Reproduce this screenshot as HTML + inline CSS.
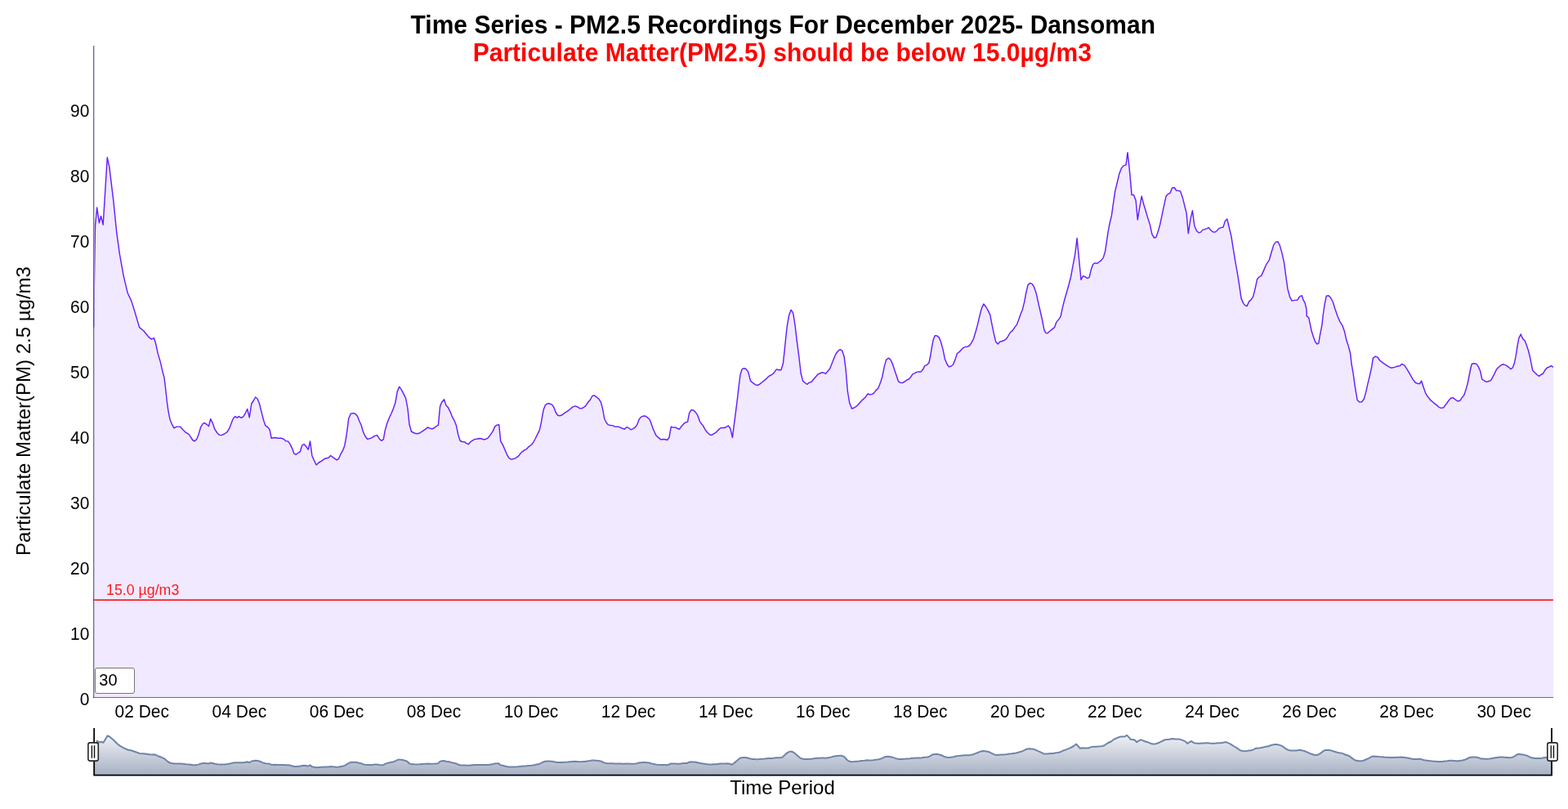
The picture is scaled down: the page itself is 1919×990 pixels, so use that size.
<!DOCTYPE html>
<html lang="en">
<head>
<meta charset="utf-8">
<title>Time Series - PM2.5 Recordings For December 2025- Dansoman</title>
<style>
html,body{margin:0;padding:0;background:#fff;overflow:hidden;}
body{width:1919px;height:990px;position:relative;font-family:"Liberation Sans",Arial,sans-serif;color:#000;}
#chart{position:absolute;left:0;top:0;width:1919px;height:990px;}
.title{position:absolute;left:0;top:14px;width:1916px;text-align:center;font-weight:bold;font-size:30px;line-height:34px;white-space:nowrap;}
.title span{display:inline-block;transform:scaleY(1.04);transform-origin:50% 79%;}
.title .t1{position:relative;left:0.3px;}
.title .sub{color:#f00;letter-spacing:0.03px;position:relative;left:-0.7px;}
.ylabel{position:absolute;left:28.9px;top:503px;width:0;height:0;}
.ylabel span{position:absolute;white-space:nowrap;font-size:24px;line-height:26px;transform:translate(-50%,-50%) rotate(-90deg);}
.xlabel{position:absolute;left:0;top:950px;width:1915px;text-align:center;font-size:24px;line-height:28px;}
.yt{transform:scaleY(1.05);transform-origin:50% 50%;position:absolute;left:0;width:109.4px;text-align:right;font-size:21px;line-height:22px;height:22px;}
.xt{transform:scaleY(1.05);transform-origin:50% 50%;position:absolute;top:860.1px;width:120px;margin-left:-60px;text-align:center;font-size:21px;line-height:22px;white-space:nowrap;}
.ann{position:absolute;left:130px;top:713px;font-size:17.8px;line-height:18px;color:#ff1a1a;white-space:nowrap;}
.roll span{display:inline-block;transform:scaleY(1.05);transform-origin:50% 75%;}
.roll{position:absolute;left:116px;top:817px;width:42.7px;height:30px;border:1px solid #767676;border-radius:3px;background:#fff;font-size:20px;line-height:28px;padding-left:4.3px;box-sizing:content-box;}
svg{position:absolute;left:0;top:0;}
</style>
</head>
<body>
<div id="chart">
<svg width="1919" height="990" viewBox="0 0 1919 990">
<defs>
<linearGradient id="rs" gradientUnits="userSpaceOnUse" x1="0" y1="889" x2="0" y2="948">
<stop offset="0" stop-color="#ffffff"/>
<stop offset="1" stop-color="#a7b1c4"/>
</linearGradient>
<clipPath id="pc"><rect x="114.5" y="55" width="1786.6" height="799"/></clipPath>
</defs>
<g id="plot" clip-path="url(#pc)">
<path id="fill" d="M115,853.5 L115,400.6 L115.3,349.7 L116.5,277 L118.7,253.9 L121.4,272.8 L123.6,264.4 L126.2,275 L131.3,192.6 L133.8,204.2 L139.1,247.9 L142.7,284.2 L146.4,310.9 L151.2,337.6 L156.1,358.2 L160.9,368.6 L164.5,380 L170.6,400.6 L175.9,405 L182.7,413.2 L185.6,415.2 L188.3,413.5 L190.5,420 L193.2,432.4 L196.3,442.9 L198.7,453.6 L200.9,461.7 L202.3,472.8 L204.3,491 L206,503.1 L208,513.2 L210,518.3 L213,523.9 L216.1,522.1 L220.5,522.1 L223.5,525.4 L227.6,529.4 L231,531.4 L233.6,535.1 L235.7,538.5 L238.1,539.9 L240.7,537.5 L243.1,531.4 L245.8,522.3 L248.2,518.7 L250.4,517.5 L252.8,519.3 L255.5,521.5 L257.7,512.6 L260.1,517.3 L262.9,525.4 L266,530 L268.6,532.4 L271,532.6 L274.6,531 L278.1,528.6 L281.1,523.3 L285.2,512.6 L287.6,509.6 L290.2,511.2 L292.4,509.6 L295.3,511.4 L297.7,509.8 L300.3,505.8 L302.7,500.5 L305.2,510.8 L307.8,494 L310.4,490 L312.6,486 L315.1,488 L317.5,494 L320.5,506.2 L322.9,515.3 L324.9,520.9 L327.6,522.7 L330,525.4 L332.2,536.3 L335.7,535.5 L340.7,536.3 L344.7,536.3 L347.4,537.5 L349.8,539.7 L352.4,539.9 L354.8,543.1 L357.5,548.6 L359.9,555.1 L362.3,556.3 L364.9,554.2 L367.2,553 L369.6,545.2 L372,543.5 L374.4,546 L377.3,550.2 L379.5,539.9 L381.9,557.7 L384.5,563.7 L387.2,569 L390.2,566 L393.2,564.3 L397.3,561.3 L400,560.7 L402,560.3 L404.6,557.5 L407.1,559.3 L409.7,561.1 L412.1,562.9 L414.5,561.3 L417.2,555.3 L419.6,551.2 L421.8,545.2 L423.6,535.5 L425.3,523.3 L426.7,512.2 L429.3,506.2 L432.3,505.6 L434.7,506.2 L437.4,509.2 L439.8,515.3 L442.2,520.5 L444.4,528.4 L446.9,533.8 L449.5,537.3 L452.1,536.7 L454.9,535.9 L458.6,533.4 L461.6,532.6 L464.2,536.9 L466.7,539.3 L469.3,537.7 L471.3,526.4 L473.7,518.3 L476.4,511.2 L478.8,506.2 L481.4,500.1 L483.8,493 L486.3,478.9 L488.7,473.2 L491.3,476.9 L493.9,481.9 L496.6,487.4 L499,500.1 L501,519.3 L503.4,528 L507.1,530 L510.7,530.8 L513.5,530 L517.2,527.6 L521.2,524.9 L523.6,522.9 L526.3,524.3 L528.9,524.9 L531.7,523.5 L534.1,521.5 L536.4,520.1 L538.6,497.1 L540.8,492 L543.6,488.8 L545.9,496.1 L548.7,499.1 L551.1,504.1 L553.5,510.2 L556,514.6 L558.6,521.3 L560.8,532.4 L563.2,539.5 L565.7,540.5 L568.3,540.7 L570.7,542.3 L573.3,543.7 L575.8,540.7 L578.4,539.1 L580.8,537.5 L583.4,537.3 L586.3,536.5 L588.9,536.7 L591.5,537.7 L593.9,537.7 L597,536.1 L599,533.8 L601,530.8 L603.4,527.4 L605.7,521.9 L608.1,520.1 L610.7,519.7 L612.7,539.9 L615.6,544.9 L618.2,551 L620.6,556.7 L623,560.7 L625.7,562.1 L628.3,561.5 L630,561.1 L634,558.7 L638.1,553.6 L642.1,550.6 L644.5,549.6 L647.2,546.6 L650.2,544.5 L652.6,541.5 L655.3,536.5 L658.3,530.4 L660.3,526.4 L662.3,517.3 L663.9,508.2 L665.4,500.7 L667.4,495.7 L669.8,494 L672.4,493.8 L675.5,495.1 L677.9,498.5 L680.1,504.5 L682.5,508.2 L684.9,508.8 L687.6,508 L690.6,505.6 L694.6,503.1 L697.7,500.7 L700.7,498.1 L703.7,496.9 L706.4,497.7 L709.8,499.9 L712.8,499.5 L716.3,497.1 L719.9,492 L722.5,489 L724.9,484.5 L727.4,483.9 L730,485.8 L733,488.4 L735.5,492.4 L737.7,501.1 L739.7,512.2 L742.1,517.3 L744.5,519.9 L747.2,520.5 L750.2,520.9 L752.6,522.1 L757.3,522.3 L760.3,523.7 L764.3,525.2 L767,522.7 L769.4,523.7 L772,525.8 L774.8,524.7 L777.5,522.9 L779.9,519.3 L782.1,513.2 L784.5,510.4 L787.2,509.2 L789.6,509 L792,510.6 L795.1,513.2 L797.3,519.3 L799.7,525.8 L802.7,532.4 L805.2,535.1 L808.8,537.9 L811.8,537.5 L814.2,537.7 L816.5,538.5 L818.9,535.5 L821.3,522.3 L823.9,523.1 L826.4,522.9 L829,524.3 L831.6,525.2 L834,521.7 L836.7,518.7 L839.1,516.9 L841.5,516.3 L843.7,505.2 L846.2,501.5 L848.8,502.1 L851.2,504.3 L853.8,508.2 L856.3,515.3 L858.9,519.3 L860,520.2 L863,525.7 L866.1,529.7 L869.1,532.3 L871.1,532.3 L873.7,530.7 L876.2,529.3 L879.2,526.1 L881.8,523.8 L884.2,523.4 L887.3,523.4 L889.3,522.2 L891.3,521 L893.7,524 L896.4,535.4 L898.4,519.6 L900.4,504.4 L902.4,488.3 L904.4,471.1 L906.1,458 L908.1,451.9 L910.5,450.7 L912.9,451.5 L915.6,454.9 L917.2,461 L918.6,466.1 L921.6,468.7 L924.6,470.9 L927.1,471.5 L929.7,470.1 L932.7,467.7 L936.8,464.4 L940.8,460.4 L943.8,459 L946.9,456.6 L950.3,451.9 L952.9,452.7 L956,452.7 L958.4,444.8 L960.4,426.7 L962,410.5 L963.4,398.4 L965.5,386.3 L968.1,379.2 L970.7,383.2 L973.1,398.4 L975.2,416.6 L977.6,434.7 L980.2,457 L982.6,466.1 L985.3,468.5 L987.9,470.3 L990.3,468.1 L992.9,467.5 L995.8,464 L998.4,461 L1000.8,458.2 L1003.4,457 L1005.9,455.8 L1008.1,456.2 L1010.5,457.4 L1012.9,454.5 L1015.6,451.3 L1018.2,444.8 L1020.6,438.4 L1023.2,432.7 L1025.7,429.5 L1028.1,427.7 L1030.7,429.1 L1033.1,436.4 L1035.2,452.9 L1037.4,479.2 L1039.8,493.3 L1042.4,500 L1045.5,499 L1048.9,496.6 L1051.9,493.3 L1054.9,489.9 L1059,486.3 L1062,482 L1064.4,482.8 L1067.1,482.6 L1069.5,481.2 L1072.1,477.6 L1074.7,475.2 L1077.2,469.1 L1079.8,461 L1082.2,448.9 L1084.6,440.4 L1087.3,438.2 L1089.7,439.8 L1090,440.2 L1092.4,445.6 L1095.1,453.7 L1097.5,460.8 L1099.5,466.8 L1102.1,468.4 L1104.1,468.6 L1107.2,467 L1109.6,465.2 L1112.2,464 L1114.6,461.4 L1116.9,457.9 L1119.7,456.7 L1122.3,455.1 L1124.7,454.9 L1127.2,454.9 L1129.4,452.3 L1131.8,447.6 L1134.4,446.6 L1136.9,444 L1138.9,434.5 L1140.5,424.4 L1142.1,416.3 L1144.1,410.7 L1146.6,410.9 L1149.2,412.9 L1151.6,418.7 L1154.2,428.4 L1156.3,438.9 L1158.7,445 L1161.3,448.8 L1163.9,448.2 L1166.4,446.2 L1168.8,440.6 L1171.4,432.5 L1173.8,430.9 L1176.5,428 L1178.9,425.6 L1181.5,424.4 L1183.9,424.2 L1186.4,423 L1189,419.3 L1191.6,414.3 L1194,406.2 L1196.5,397.1 L1199.1,386 L1201.5,376.9 L1203.9,371.9 L1206.6,375.5 L1209.2,379.9 L1211.8,385.4 L1213.6,395.1 L1216.3,408.2 L1218.7,418.3 L1221.3,421 L1223.7,418.3 L1226.4,417.5 L1229,416.5 L1231.4,414.9 L1233.8,411.3 L1236.3,407 L1239.1,404.6 L1241.5,401.2 L1244.5,397.1 L1247.2,390.1 L1249.2,384 L1251.2,379.5 L1253.6,369.8 L1255.7,358.7 L1258.1,348.6 L1260.7,346.4 L1263.3,347.6 L1265.8,351.7 L1268.4,359.7 L1270.8,370.9 L1273.4,382 L1275.9,393.1 L1277.9,403.8 L1279.9,407.4 L1281.9,407.8 L1284.9,405.2 L1288,402.6 L1290.6,400.6 L1293,394.1 L1295.7,390.9 L1298.1,387.4 L1300.5,375.9 L1303.1,365.8 L1305.6,357.3 L1308.2,348 L1310.6,338.5 L1313.2,324.4 L1315.7,311.3 L1318.1,291.5 L1323,342.3 L1325.5,337.8 L1328.1,338.6 L1330.5,340.5 L1333.1,339.6 L1335.2,330.6 L1337.6,323.5 L1339.8,321.9 L1342.6,322.3 L1345.3,320.5 L1347.9,318.4 L1350.3,315.4 L1352.7,307.3 L1354.3,296.2 L1356.4,282.1 L1358.4,272 L1360.4,263.9 L1362.4,249.7 L1364.8,233.6 L1367.5,222.5 L1369.9,212.4 L1372.5,205.7 L1374.9,202.9 L1378,201.9 L1380,186.7 L1381.6,200.3 L1383.2,217.4 L1385.1,238.6 L1387.5,238.4 L1390.1,245.3 L1392.3,268.9 L1394.7,253.8 L1397.2,240.1 L1399.8,250.2 L1402.4,258.8 L1404.8,266.9 L1407.5,275.4 L1409.9,286.7 L1412.5,291 L1414.9,290.2 L1417.4,283.1 L1419.6,275 L1422,263.9 L1424.4,252.4 L1427.1,240.1 L1429.5,237.6 L1432.1,236.2 L1434.5,229.9 L1437.2,229.5 L1439.6,233 L1442.2,233.4 L1444.6,234 L1447.3,241.7 L1449.7,251.4 L1452.1,260.9 L1454.3,285.7 L1457,267.9 L1459.4,257.8 L1461.8,276 L1464.4,282.5 L1467.1,284.7 L1469.5,284.1 L1472.1,281.1 L1474.5,280.7 L1477.2,279.6 L1479.2,278.4 L1481.6,281.5 L1484.2,283.7 L1486.7,284.1 L1489.3,282.5 L1491.7,279.6 L1494.3,278.6 L1497,278 L1499.4,270.4 L1501.8,267.9 L1504.2,278 L1506.9,289.1 L1509.3,304.3 L1511.9,320.5 L1514.3,333.6 L1517,350.8 L1519,364.9 L1521.4,370.6 L1523.6,373.6 L1526.1,374.6 L1528.7,368.9 L1531.1,366.9 L1533.7,362.9 L1536.2,352.8 L1538.6,341.7 L1541.2,338.6 L1543.6,337.6 L1546.3,331.6 L1548.9,325.5 L1550,323.2 L1553.3,318.3 L1556.2,308.3 L1558.9,299.4 L1561.6,296.1 L1564,295.7 L1566.2,300.1 L1568.9,309.4 L1571.6,321.7 L1573.8,338.3 L1576,353.9 L1578.4,362.8 L1581.1,368.1 L1584.4,367.4 L1587.8,367.2 L1590.4,363.2 L1593.3,361.7 L1595.1,367.2 L1597.1,370.6 L1598.9,378.3 L1599.3,387.2 L1601.6,388.3 L1603.3,396.1 L1605.1,405 L1607.3,411.7 L1609.6,418.3 L1611.8,421 L1613.8,420.1 L1615.6,409.4 L1617.8,398.3 L1619.3,385 L1621.1,372.8 L1623.3,362.1 L1626,361.7 L1628.2,363.9 L1631.1,369 L1634,378.3 L1637.1,387.2 L1640,393.9 L1642.9,398.3 L1645.6,406.1 L1647.8,416.1 L1650.4,423.9 L1652.7,432.8 L1654,445 L1656,456.1 L1657.8,469.4 L1659.6,480.6 L1661.1,489.4 L1663.8,492.1 L1666.7,491.7 L1669.3,488.3 L1671.8,479.4 L1674,469.4 L1676.2,460.6 L1678.4,450.6 L1680.4,438.3 L1683.3,436.1 L1686,437.2 L1688.9,441.2 L1692.2,443.9 L1695.6,446.1 L1698.9,448.3 L1702.9,450.3 L1706.7,449.4 L1710,448.3 L1713.3,447.7 L1715.6,445.4 L1718.9,447.2 L1722.2,452.1 L1725.6,457.9 L1728.9,463.9 L1732.2,468.3 L1735.1,469.4 L1737.8,469.4 L1739.6,466.1 L1742.2,473.9 L1744.9,481.7 L1747.8,486.1 L1751.1,489.9 L1754.4,492.8 L1757.8,495.4 L1761.1,498.3 L1763.8,499.4 L1766.7,498.8 L1769.3,495 L1770,494.5 L1772.8,490.3 L1775.7,487.2 L1778.5,486.8 L1781.3,489.2 L1784.1,491 L1786.7,490.3 L1789.1,486.8 L1791.6,483.9 L1794,476.9 L1796.2,469.1 L1798.3,458.5 L1800,450 L1801.4,445.3 L1803.9,444.8 L1806.8,445.1 L1809.3,448.6 L1811.7,454.2 L1813.8,464.1 L1816.7,466 L1819.5,467.4 L1822,466.5 L1824.4,465.6 L1826.6,462 L1829.1,457.1 L1831.5,452.1 L1834.3,449.3 L1837.2,446.7 L1840,445.8 L1842.8,446.9 L1846.4,449.3 L1848.9,451.7 L1851.3,450 L1853.4,444.3 L1855.3,435.2 L1857,423.8 L1858.8,413.9 L1861.2,409 L1862.6,412.5 L1864.5,415.6 L1866.2,416.8 L1868.3,422.4 L1870.4,428.8 L1872.1,435.2 L1873.9,444.3 L1875.8,453.5 L1878.2,455.7 L1881,458.5 L1883.6,460.3 L1886,458.5 L1888.5,457.1 L1890.9,452.8 L1893.7,449.7 L1895.9,449.2 L1898.4,447.6 L1901,449.3 L1901,853.5 Z" fill="#f0e9ff"/>
<path id="line" d="M115,400.6 L115.3,349.7 L116.5,277 L118.7,253.9 L121.4,272.8 L123.6,264.4 L126.2,275 L131.3,192.6 L133.8,204.2 L139.1,247.9 L142.7,284.2 L146.4,310.9 L151.2,337.6 L156.1,358.2 L160.9,368.6 L164.5,380 L170.6,400.6 L175.9,405 L182.7,413.2 L185.6,415.2 L188.3,413.5 L190.5,420 L193.2,432.4 L196.3,442.9 L198.7,453.6 L200.9,461.7 L202.3,472.8 L204.3,491 L206,503.1 L208,513.2 L210,518.3 L213,523.9 L216.1,522.1 L220.5,522.1 L223.5,525.4 L227.6,529.4 L231,531.4 L233.6,535.1 L235.7,538.5 L238.1,539.9 L240.7,537.5 L243.1,531.4 L245.8,522.3 L248.2,518.7 L250.4,517.5 L252.8,519.3 L255.5,521.5 L257.7,512.6 L260.1,517.3 L262.9,525.4 L266,530 L268.6,532.4 L271,532.6 L274.6,531 L278.1,528.6 L281.1,523.3 L285.2,512.6 L287.6,509.6 L290.2,511.2 L292.4,509.6 L295.3,511.4 L297.7,509.8 L300.3,505.8 L302.7,500.5 L305.2,510.8 L307.8,494 L310.4,490 L312.6,486 L315.1,488 L317.5,494 L320.5,506.2 L322.9,515.3 L324.9,520.9 L327.6,522.7 L330,525.4 L332.2,536.3 L335.7,535.5 L340.7,536.3 L344.7,536.3 L347.4,537.5 L349.8,539.7 L352.4,539.9 L354.8,543.1 L357.5,548.6 L359.9,555.1 L362.3,556.3 L364.9,554.2 L367.2,553 L369.6,545.2 L372,543.5 L374.4,546 L377.3,550.2 L379.5,539.9 L381.9,557.7 L384.5,563.7 L387.2,569 L390.2,566 L393.2,564.3 L397.3,561.3 L400,560.7 L402,560.3 L404.6,557.5 L407.1,559.3 L409.7,561.1 L412.1,562.9 L414.5,561.3 L417.2,555.3 L419.6,551.2 L421.8,545.2 L423.6,535.5 L425.3,523.3 L426.7,512.2 L429.3,506.2 L432.3,505.6 L434.7,506.2 L437.4,509.2 L439.8,515.3 L442.2,520.5 L444.4,528.4 L446.9,533.8 L449.5,537.3 L452.1,536.7 L454.9,535.9 L458.6,533.4 L461.6,532.6 L464.2,536.9 L466.7,539.3 L469.3,537.7 L471.3,526.4 L473.7,518.3 L476.4,511.2 L478.8,506.2 L481.4,500.1 L483.8,493 L486.3,478.9 L488.7,473.2 L491.3,476.9 L493.9,481.9 L496.6,487.4 L499,500.1 L501,519.3 L503.4,528 L507.1,530 L510.7,530.8 L513.5,530 L517.2,527.6 L521.2,524.9 L523.6,522.9 L526.3,524.3 L528.9,524.9 L531.7,523.5 L534.1,521.5 L536.4,520.1 L538.6,497.1 L540.8,492 L543.6,488.8 L545.9,496.1 L548.7,499.1 L551.1,504.1 L553.5,510.2 L556,514.6 L558.6,521.3 L560.8,532.4 L563.2,539.5 L565.7,540.5 L568.3,540.7 L570.7,542.3 L573.3,543.7 L575.8,540.7 L578.4,539.1 L580.8,537.5 L583.4,537.3 L586.3,536.5 L588.9,536.7 L591.5,537.7 L593.9,537.7 L597,536.1 L599,533.8 L601,530.8 L603.4,527.4 L605.7,521.9 L608.1,520.1 L610.7,519.7 L612.7,539.9 L615.6,544.9 L618.2,551 L620.6,556.7 L623,560.7 L625.7,562.1 L628.3,561.5 L630,561.1 L634,558.7 L638.1,553.6 L642.1,550.6 L644.5,549.6 L647.2,546.6 L650.2,544.5 L652.6,541.5 L655.3,536.5 L658.3,530.4 L660.3,526.4 L662.3,517.3 L663.9,508.2 L665.4,500.7 L667.4,495.7 L669.8,494 L672.4,493.8 L675.5,495.1 L677.9,498.5 L680.1,504.5 L682.5,508.2 L684.9,508.8 L687.6,508 L690.6,505.6 L694.6,503.1 L697.7,500.7 L700.7,498.1 L703.7,496.9 L706.4,497.7 L709.8,499.9 L712.8,499.5 L716.3,497.1 L719.9,492 L722.5,489 L724.9,484.5 L727.4,483.9 L730,485.8 L733,488.4 L735.5,492.4 L737.7,501.1 L739.7,512.2 L742.1,517.3 L744.5,519.9 L747.2,520.5 L750.2,520.9 L752.6,522.1 L757.3,522.3 L760.3,523.7 L764.3,525.2 L767,522.7 L769.4,523.7 L772,525.8 L774.8,524.7 L777.5,522.9 L779.9,519.3 L782.1,513.2 L784.5,510.4 L787.2,509.2 L789.6,509 L792,510.6 L795.1,513.2 L797.3,519.3 L799.7,525.8 L802.7,532.4 L805.2,535.1 L808.8,537.9 L811.8,537.5 L814.2,537.7 L816.5,538.5 L818.9,535.5 L821.3,522.3 L823.9,523.1 L826.4,522.9 L829,524.3 L831.6,525.2 L834,521.7 L836.7,518.7 L839.1,516.9 L841.5,516.3 L843.7,505.2 L846.2,501.5 L848.8,502.1 L851.2,504.3 L853.8,508.2 L856.3,515.3 L858.9,519.3 L860,520.2 L863,525.7 L866.1,529.7 L869.1,532.3 L871.1,532.3 L873.7,530.7 L876.2,529.3 L879.2,526.1 L881.8,523.8 L884.2,523.4 L887.3,523.4 L889.3,522.2 L891.3,521 L893.7,524 L896.4,535.4 L898.4,519.6 L900.4,504.4 L902.4,488.3 L904.4,471.1 L906.1,458 L908.1,451.9 L910.5,450.7 L912.9,451.5 L915.6,454.9 L917.2,461 L918.6,466.1 L921.6,468.7 L924.6,470.9 L927.1,471.5 L929.7,470.1 L932.7,467.7 L936.8,464.4 L940.8,460.4 L943.8,459 L946.9,456.6 L950.3,451.9 L952.9,452.7 L956,452.7 L958.4,444.8 L960.4,426.7 L962,410.5 L963.4,398.4 L965.5,386.3 L968.1,379.2 L970.7,383.2 L973.1,398.4 L975.2,416.6 L977.6,434.7 L980.2,457 L982.6,466.1 L985.3,468.5 L987.9,470.3 L990.3,468.1 L992.9,467.5 L995.8,464 L998.4,461 L1000.8,458.2 L1003.4,457 L1005.9,455.8 L1008.1,456.2 L1010.5,457.4 L1012.9,454.5 L1015.6,451.3 L1018.2,444.8 L1020.6,438.4 L1023.2,432.7 L1025.7,429.5 L1028.1,427.7 L1030.7,429.1 L1033.1,436.4 L1035.2,452.9 L1037.4,479.2 L1039.8,493.3 L1042.4,500 L1045.5,499 L1048.9,496.6 L1051.9,493.3 L1054.9,489.9 L1059,486.3 L1062,482 L1064.4,482.8 L1067.1,482.6 L1069.5,481.2 L1072.1,477.6 L1074.7,475.2 L1077.2,469.1 L1079.8,461 L1082.2,448.9 L1084.6,440.4 L1087.3,438.2 L1089.7,439.8 L1090,440.2 L1092.4,445.6 L1095.1,453.7 L1097.5,460.8 L1099.5,466.8 L1102.1,468.4 L1104.1,468.6 L1107.2,467 L1109.6,465.2 L1112.2,464 L1114.6,461.4 L1116.9,457.9 L1119.7,456.7 L1122.3,455.1 L1124.7,454.9 L1127.2,454.9 L1129.4,452.3 L1131.8,447.6 L1134.4,446.6 L1136.9,444 L1138.9,434.5 L1140.5,424.4 L1142.1,416.3 L1144.1,410.7 L1146.6,410.9 L1149.2,412.9 L1151.6,418.7 L1154.2,428.4 L1156.3,438.9 L1158.7,445 L1161.3,448.8 L1163.9,448.2 L1166.4,446.2 L1168.8,440.6 L1171.4,432.5 L1173.8,430.9 L1176.5,428 L1178.9,425.6 L1181.5,424.4 L1183.9,424.2 L1186.4,423 L1189,419.3 L1191.6,414.3 L1194,406.2 L1196.5,397.1 L1199.1,386 L1201.5,376.9 L1203.9,371.9 L1206.6,375.5 L1209.2,379.9 L1211.8,385.4 L1213.6,395.1 L1216.3,408.2 L1218.7,418.3 L1221.3,421 L1223.7,418.3 L1226.4,417.5 L1229,416.5 L1231.4,414.9 L1233.8,411.3 L1236.3,407 L1239.1,404.6 L1241.5,401.2 L1244.5,397.1 L1247.2,390.1 L1249.2,384 L1251.2,379.5 L1253.6,369.8 L1255.7,358.7 L1258.1,348.6 L1260.7,346.4 L1263.3,347.6 L1265.8,351.7 L1268.4,359.7 L1270.8,370.9 L1273.4,382 L1275.9,393.1 L1277.9,403.8 L1279.9,407.4 L1281.9,407.8 L1284.9,405.2 L1288,402.6 L1290.6,400.6 L1293,394.1 L1295.7,390.9 L1298.1,387.4 L1300.5,375.9 L1303.1,365.8 L1305.6,357.3 L1308.2,348 L1310.6,338.5 L1313.2,324.4 L1315.7,311.3 L1318.1,291.5 L1323,342.3 L1325.5,337.8 L1328.1,338.6 L1330.5,340.5 L1333.1,339.6 L1335.2,330.6 L1337.6,323.5 L1339.8,321.9 L1342.6,322.3 L1345.3,320.5 L1347.9,318.4 L1350.3,315.4 L1352.7,307.3 L1354.3,296.2 L1356.4,282.1 L1358.4,272 L1360.4,263.9 L1362.4,249.7 L1364.8,233.6 L1367.5,222.5 L1369.9,212.4 L1372.5,205.7 L1374.9,202.9 L1378,201.9 L1380,186.7 L1381.6,200.3 L1383.2,217.4 L1385.1,238.6 L1387.5,238.4 L1390.1,245.3 L1392.3,268.9 L1394.7,253.8 L1397.2,240.1 L1399.8,250.2 L1402.4,258.8 L1404.8,266.9 L1407.5,275.4 L1409.9,286.7 L1412.5,291 L1414.9,290.2 L1417.4,283.1 L1419.6,275 L1422,263.9 L1424.4,252.4 L1427.1,240.1 L1429.5,237.6 L1432.1,236.2 L1434.5,229.9 L1437.2,229.5 L1439.6,233 L1442.2,233.4 L1444.6,234 L1447.3,241.7 L1449.7,251.4 L1452.1,260.9 L1454.3,285.7 L1457,267.9 L1459.4,257.8 L1461.8,276 L1464.4,282.5 L1467.1,284.7 L1469.5,284.1 L1472.1,281.1 L1474.5,280.7 L1477.2,279.6 L1479.2,278.4 L1481.6,281.5 L1484.2,283.7 L1486.7,284.1 L1489.3,282.5 L1491.7,279.6 L1494.3,278.6 L1497,278 L1499.4,270.4 L1501.8,267.9 L1504.2,278 L1506.9,289.1 L1509.3,304.3 L1511.9,320.5 L1514.3,333.6 L1517,350.8 L1519,364.9 L1521.4,370.6 L1523.6,373.6 L1526.1,374.6 L1528.7,368.9 L1531.1,366.9 L1533.7,362.9 L1536.2,352.8 L1538.6,341.7 L1541.2,338.6 L1543.6,337.6 L1546.3,331.6 L1548.9,325.5 L1550,323.2 L1553.3,318.3 L1556.2,308.3 L1558.9,299.4 L1561.6,296.1 L1564,295.7 L1566.2,300.1 L1568.9,309.4 L1571.6,321.7 L1573.8,338.3 L1576,353.9 L1578.4,362.8 L1581.1,368.1 L1584.4,367.4 L1587.8,367.2 L1590.4,363.2 L1593.3,361.7 L1595.1,367.2 L1597.1,370.6 L1598.9,378.3 L1599.3,387.2 L1601.6,388.3 L1603.3,396.1 L1605.1,405 L1607.3,411.7 L1609.6,418.3 L1611.8,421 L1613.8,420.1 L1615.6,409.4 L1617.8,398.3 L1619.3,385 L1621.1,372.8 L1623.3,362.1 L1626,361.7 L1628.2,363.9 L1631.1,369 L1634,378.3 L1637.1,387.2 L1640,393.9 L1642.9,398.3 L1645.6,406.1 L1647.8,416.1 L1650.4,423.9 L1652.7,432.8 L1654,445 L1656,456.1 L1657.8,469.4 L1659.6,480.6 L1661.1,489.4 L1663.8,492.1 L1666.7,491.7 L1669.3,488.3 L1671.8,479.4 L1674,469.4 L1676.2,460.6 L1678.4,450.6 L1680.4,438.3 L1683.3,436.1 L1686,437.2 L1688.9,441.2 L1692.2,443.9 L1695.6,446.1 L1698.9,448.3 L1702.9,450.3 L1706.7,449.4 L1710,448.3 L1713.3,447.7 L1715.6,445.4 L1718.9,447.2 L1722.2,452.1 L1725.6,457.9 L1728.9,463.9 L1732.2,468.3 L1735.1,469.4 L1737.8,469.4 L1739.6,466.1 L1742.2,473.9 L1744.9,481.7 L1747.8,486.1 L1751.1,489.9 L1754.4,492.8 L1757.8,495.4 L1761.1,498.3 L1763.8,499.4 L1766.7,498.8 L1769.3,495 L1770,494.5 L1772.8,490.3 L1775.7,487.2 L1778.5,486.8 L1781.3,489.2 L1784.1,491 L1786.7,490.3 L1789.1,486.8 L1791.6,483.9 L1794,476.9 L1796.2,469.1 L1798.3,458.5 L1800,450 L1801.4,445.3 L1803.9,444.8 L1806.8,445.1 L1809.3,448.6 L1811.7,454.2 L1813.8,464.1 L1816.7,466 L1819.5,467.4 L1822,466.5 L1824.4,465.6 L1826.6,462 L1829.1,457.1 L1831.5,452.1 L1834.3,449.3 L1837.2,446.7 L1840,445.8 L1842.8,446.9 L1846.4,449.3 L1848.9,451.7 L1851.3,450 L1853.4,444.3 L1855.3,435.2 L1857,423.8 L1858.8,413.9 L1861.2,409 L1862.6,412.5 L1864.5,415.6 L1866.2,416.8 L1868.3,422.4 L1870.4,428.8 L1872.1,435.2 L1873.9,444.3 L1875.8,453.5 L1878.2,455.7 L1881,458.5 L1883.6,460.3 L1886,458.5 L1888.5,457.1 L1890.9,452.8 L1893.7,449.7 L1895.9,449.2 L1898.4,447.6 L1901,449.3" fill="none" stroke="#651fff" stroke-width="1.45" stroke-linejoin="round"/>
</g>
<line x1="114" y1="734.3" x2="1901" y2="734.3" stroke="#ff0000" stroke-width="1.5"/>
<line x1="115.5" y1="56" x2="115.5" y2="853" stroke="#b9b3d0" stroke-opacity="0.7" stroke-width="1"/>
<line x1="114.5" y1="56" x2="114.5" y2="854" stroke="#000" stroke-opacity="0.55" stroke-width="1.1"/>
<line x1="114" y1="853.5" x2="1901" y2="853.5" stroke="#000" stroke-opacity="0.55" stroke-width="1.2"/>
<g id="rsel">
<path id="rfill" d="M115.3,948 L115.3,921.9 L119,906.6 L121.7,908.6 L123.9,907.7 L126.5,908.8 L131.6,900.3 L134.1,901.5 L139.4,906 L143,909.8 L146.7,912.6 L151.5,915.3 L156.4,917.5 L161.1,918.5 L164.7,919.7 L170.8,921.9 L176.1,922.3 L182.9,923.2 L185.8,923.4 L188.5,923.2 L190.7,923.9 L193.4,925.2 L196.5,926.2 L198.9,927.4 L201.1,928.2 L204.5,931.2 L206.2,932.5 L208.2,933.5 L210.2,934.1 L213.2,934.6 L216.3,934.5 L220.7,934.5 L223.7,934.8 L227.8,935.2 L231.2,935.4 L233.8,935.8 L235.9,936.2 L238.3,936.3 L240.9,936.1 L243.3,935.4 L246,934.5 L248.4,934.1 L250.5,934 L252.9,934.2 L255.6,934.4 L257.8,933.5 L260.2,934 L263,934.8 L266.1,935.3 L268.7,935.5 L271.1,935.5 L274.7,935.4 L278.2,935.1 L281.2,934.6 L285.3,933.5 L287.7,933.2 L290.3,933.3 L292.5,933.2 L295.4,933.3 L297.8,933.2 L300.4,932.8 L302.8,932.2 L305.3,933.3 L307.9,931.5 L310.5,931.1 L312.7,930.7 L315.2,930.9 L317.6,931.5 L320.6,932.8 L323,933.8 L325,934.3 L327.7,934.5 L330.1,934.8 L332.3,935.9 L335.8,935.8 L340.7,935.9 L344.7,935.9 L347.4,936.1 L349.8,936.3 L352.4,936.3 L354.8,936.6 L357.5,937.2 L359.9,937.9 L362.3,938 L364.9,937.8 L367.2,937.7 L369.6,936.9 L372,936.7 L374.4,936.9 L377.3,937.4 L379.5,936.3 L381.9,938.1 L384.5,938.8 L387.2,939.3 L390.2,939 L393.2,938.8 L397.3,938.5 L400,938.5 L402,938.4 L404.6,938.1 L407.1,938.3 L409.7,938.5 L412.1,938.7 L414.5,938.5 L417.2,937.9 L419.6,937.5 L421.8,936.9 L423.6,935.8 L425.3,934.6 L429.2,932.8 L432.2,932.7 L434.6,932.8 L437.3,933.1 L439.7,933.8 L442.1,934.3 L444.3,935.1 L446.8,935.7 L449.4,936 L452,936 L454.8,935.9 L458.5,935.6 L461.5,935.5 L464.1,936 L466.6,936.2 L469.2,936.1 L471.2,934.9 L473.6,934.1 L476.3,933.3 L478.7,932.8 L481.3,932.2 L483.7,931.4 L486.2,930 L488.6,929.4 L491.2,929.8 L493.8,930.3 L496.5,930.9 L498.9,932.2 L500.9,934.2 L503.3,935.1 L507,935.3 L510.6,935.4 L513.4,935.3 L517,935 L521,934.7 L523.4,934.5 L526.1,934.7 L528.7,934.7 L531.5,934.6 L533.9,934.4 L536.2,934.2 L538.4,931.9 L540.6,931.3 L543.4,931 L545.7,931.8 L548.5,932.1 L550.9,932.6 L553.3,933.2 L555.8,933.7 L558.4,934.4 L560.6,935.5 L563,936.3 L565.5,936.4 L568.1,936.4 L570.5,936.6 L573.1,936.7 L575.6,936.4 L578.2,936.2 L580.6,936.1 L583.2,936 L586.1,935.9 L588.7,936 L591.3,936.1 L593.7,936.1 L596.8,935.9 L598.8,935.7 L600.8,935.4 L603.2,935 L605.5,934.4 L607.8,934.2 L610.4,934.2 L612.4,936.3 L615.3,936.8 L617.9,937.5 L620.3,938 L622.7,938.5 L625.4,938.6 L628,938.5 L629.7,938.5 L633.7,938.3 L637.8,937.7 L641.8,937.4 L644.2,937.3 L646.9,937 L649.9,936.8 L652.3,936.5 L655,935.9 L658,935.3 L660,934.9 L662,934 L663.6,933 L667.1,931.7 L669.5,931.5 L672.1,931.5 L675.2,931.7 L677.6,932 L679.8,932.6 L682.2,933 L684.6,933.1 L687.3,933 L690.3,932.7 L694.3,932.5 L697.3,932.2 L700.3,932 L703.3,931.8 L706,931.9 L709.4,932.2 L712.4,932.1 L715.9,931.9 L719.5,931.3 L722.1,931 L724.5,930.6 L727,930.5 L729.6,930.7 L732.6,931 L735.1,931.4 L737.3,932.3 L739.3,933.4 L741.7,934 L744.1,934.2 L746.8,934.3 L749.8,934.3 L752.2,934.5 L756.9,934.5 L759.9,934.6 L763.9,934.8 L766.6,934.5 L769,934.6 L771.6,934.8 L774.4,934.7 L777.1,934.5 L779.5,934.2 L781.7,933.5 L784.1,933.2 L786.7,933.1 L789.1,933.1 L791.5,933.3 L794.6,933.5 L796.8,934.2 L799.2,934.8 L802.2,935.5 L804.7,935.8 L808.3,936.1 L811.3,936.1 L813.7,936.1 L816,936.2 L818.4,935.8 L820.8,934.5 L823.4,934.6 L825.9,934.5 L828.5,934.7 L831.1,934.8 L833.5,934.4 L836.2,934.1 L838.6,933.9 L841,933.9 L843.2,932.7 L845.7,932.3 L848.3,932.4 L850.7,932.6 L853.3,933 L855.8,933.8 L858.4,934.2 L862.5,934.8 L865.6,935.2 L868.6,935.5 L870.6,935.5 L873.2,935.3 L875.6,935.2 L878.6,934.9 L881.2,934.6 L883.6,934.6 L886.7,934.6 L888.7,934.5 L890.7,934.3 L893.1,934.7 L895.8,935.8 L897.8,934.2 L899.8,932.6 L901.8,931 L903.8,929.2 L905.5,927.8 L907.5,927.2 L909.9,927.1 L912.3,927.1 L915,927.5 L916.6,928.1 L921,928.9 L924,929.1 L926.5,929.2 L929.1,929.1 L932.1,928.8 L936.2,928.5 L940.2,928.1 L943.2,927.9 L946.3,927.7 L949.7,927.2 L952.3,927.3 L955.4,927.3 L957.8,926.4 L959.8,924.6 L961.4,922.9 L964.8,920.4 L967.4,919.6 L970,920.1 L972.4,921.6 L974.5,923.5 L976.9,925.4 L979.5,927.7 L981.9,928.6 L984.6,928.9 L987.2,929.1 L989.6,928.9 L992.2,928.8 L995.1,928.4 L997.7,928.1 L1000.1,927.8 L1002.7,927.7 L1005.2,927.6 L1007.4,927.6 L1009.8,927.7 L1012.2,927.4 L1014.9,927.1 L1017.5,926.4 L1019.9,925.8 L1022.5,925.2 L1025,924.9 L1027.4,924.7 L1030,924.8 L1032.4,925.6 L1034.5,927.3 L1036.7,930 L1039.1,931.5 L1041.7,932.2 L1044.8,932.1 L1048.2,931.8 L1051.2,931.5 L1054.1,931.1 L1058.2,930.7 L1061.2,930.3 L1063.6,930.4 L1066.3,930.4 L1068.7,930.2 L1071.3,929.8 L1073.9,929.6 L1076.4,929 L1079,928.1 L1081.4,926.9 L1083.8,926 L1086.5,925.8 L1088.9,925.9 L1091.6,926.5 L1094.3,927.4 L1096.7,928.1 L1098.7,928.7 L1101.3,928.9 L1103.3,928.9 L1106.4,928.7 L1108.8,928.6 L1111.4,928.4 L1113.8,928.2 L1116.1,927.8 L1118.9,927.7 L1121.5,927.5 L1123.9,927.5 L1126.4,927.5 L1128.6,927.2 L1131,926.7 L1133.6,926.6 L1136.1,926.4 L1138.1,925.4 L1139.7,924.3 L1141.2,923.5 L1143.2,922.9 L1145.7,922.9 L1148.3,923.1 L1150.7,923.7 L1153.3,924.7 L1155.4,925.8 L1157.8,926.5 L1160.4,926.9 L1163,926.8 L1165.5,926.6 L1167.9,926 L1170.5,925.2 L1172.9,925 L1175.6,924.7 L1178,924.4 L1180.6,924.3 L1183,924.3 L1185.5,924.2 L1188.1,923.8 L1190.7,923.3 L1193.1,922.4 L1195.6,921.5 L1198.2,920.3 L1200.6,919.4 L1203,918.9 L1205.7,919.3 L1208.3,919.7 L1210.9,920.3 L1212.7,921.3 L1215.4,922.6 L1217.8,923.7 L1220.4,924 L1222.8,923.7 L1225.5,923.6 L1228.1,923.5 L1230.4,923.3 L1232.8,923 L1235.3,922.5 L1238.1,922.3 L1240.5,921.9 L1243.5,921.5 L1246.2,920.8 L1248.2,920.1 L1250.2,919.7 L1252.6,918.7 L1254.7,917.5 L1257.1,916.5 L1259.7,916.2 L1262.3,916.4 L1264.8,916.8 L1267.4,917.6 L1269.8,918.8 L1272.4,919.9 L1274.9,921.1 L1276.9,922.2 L1278.9,922.6 L1280.9,922.6 L1283.9,922.3 L1287,922.1 L1289.6,921.9 L1292,921.2 L1294.7,920.9 L1297.1,920.5 L1299.5,919.3 L1302.1,918.2 L1304.6,917.4 L1307.2,916.4 L1309.6,915.4 L1312.2,914 L1314.7,912.6 L1317.1,910.5 L1321.9,915.8 L1324.4,915.3 L1327,915.4 L1329.4,915.6 L1332,915.5 L1334.1,914.6 L1336.5,913.9 L1338.7,913.7 L1341.5,913.7 L1344.2,913.5 L1346.8,913.3 L1349.2,913 L1351.6,912.2 L1353.2,911 L1355.3,909.6 L1357.3,908.5 L1359.3,907.7 L1361.3,906.2 L1363.7,904.5 L1366.4,903.4 L1368.8,902.3 L1371.4,901.6 L1373.8,901.4 L1376.9,901.3 L1378.9,899.7 L1380.5,901.1 L1382.1,902.9 L1384,905.1 L1386.4,905 L1389,905.8 L1391.2,908.2 L1393.6,906.6 L1396.1,905.2 L1398.7,906.3 L1401.3,907.2 L1403.7,908 L1406.4,908.9 L1408.7,910 L1411.3,910.5 L1413.7,910.4 L1416.2,909.7 L1418.4,908.8 L1420.8,907.7 L1423.2,906.5 L1425.9,905.2 L1428.3,905 L1430.9,904.8 L1433.3,904.2 L1436,904.1 L1438.4,904.5 L1441,904.5 L1443.4,904.6 L1446.1,905.4 L1448.5,906.4 L1450.9,907.4 L1453.1,909.9 L1455.8,908.1 L1458.2,907 L1460.6,908.9 L1463.2,909.6 L1465.9,909.8 L1468.3,909.8 L1470.9,909.5 L1473.3,909.4 L1476,909.3 L1478,909.2 L1480.4,909.5 L1483,909.7 L1485.5,909.8 L1488.1,909.6 L1490.5,909.3 L1493.1,909.2 L1495.8,909.1 L1498.1,908.4 L1500.5,908.1 L1502.9,909.1 L1505.6,910.3 L1508,911.9 L1510.6,913.5 L1513,914.9 L1515.7,916.7 L1517.7,918.2 L1520.1,918.7 L1522.3,919.1 L1524.8,919.2 L1527.4,918.6 L1529.8,918.4 L1532.4,917.9 L1534.9,916.9 L1537.3,915.7 L1539.9,915.4 L1542.3,915.3 L1545,914.7 L1547.6,914.1 L1552,913.3 L1554.9,912.3 L1557.6,911.4 L1560.3,911 L1562.7,911 L1564.9,911.4 L1567.6,912.4 L1570.3,913.7 L1572.5,915.4 L1574.7,917 L1577.1,917.9 L1579.8,918.5 L1583.1,918.4 L1586.5,918.4 L1589,918 L1591.9,917.8 L1593.7,918.4 L1595.7,918.7 L1597.5,919.5 L1600.2,920.6 L1601.9,921.4 L1603.7,922.3 L1605.9,923 L1608.2,923.7 L1610.4,924 L1612.4,923.9 L1614.2,922.8 L1616.4,921.6 L1619.7,919 L1621.9,917.9 L1624.6,917.8 L1626.8,918.1 L1629.7,918.6 L1632.6,919.5 L1635.7,920.5 L1638.6,921.2 L1641.5,921.6 L1644.2,922.4 L1646.4,923.5 L1649,924.3 L1651.3,925.2 L1654.6,927.6 L1656.4,929 L1658.2,930.2 L1662.4,931.3 L1665.3,931.3 L1667.9,931 L1670.4,930 L1672.6,929 L1674.8,928.1 L1676.9,927 L1678.9,925.8 L1681.8,925.5 L1684.5,925.7 L1687.4,926.1 L1690.7,926.3 L1694.1,926.6 L1697.4,926.8 L1701.4,927 L1705.2,926.9 L1708.5,926.8 L1711.8,926.7 L1714.1,926.5 L1717.4,926.7 L1720.7,927.2 L1724.1,927.8 L1727.4,928.4 L1730.7,928.9 L1733.6,929 L1736.3,929 L1738.1,928.6 L1740.7,929.5 L1743.4,930.3 L1746.3,930.7 L1749.6,931.1 L1752.9,931.4 L1756.3,931.7 L1759.6,932 L1762.3,932.1 L1765.2,932 L1767.7,931.6 L1771.2,931.2 L1774.1,930.8 L1776.9,930.8 L1779.7,931 L1782.5,931.2 L1785.1,931.2 L1787.5,930.8 L1790,930.5 L1792.4,929.8 L1794.6,929 L1796.7,927.9 L1798.4,927 L1802.3,926.4 L1805.2,926.5 L1807.7,926.8 L1810.1,927.4 L1812.2,928.4 L1815.1,928.6 L1817.9,928.8 L1820.4,928.7 L1822.8,928.6 L1825,928.2 L1827.5,927.7 L1829.9,927.2 L1832.7,926.9 L1835.6,926.6 L1838.4,926.5 L1841.2,926.7 L1844.8,926.9 L1847.3,927.2 L1849.7,927 L1851.8,926.4 L1853.7,925.4 L1855.3,924.3 L1857.1,923.2 L1859.5,922.7 L1862.8,923.4 L1864.5,923.5 L1866.6,924.1 L1868.7,924.8 L1870.4,925.4 L1872.2,926.4 L1874.1,927.3 L1876.5,927.6 L1879.3,927.9 L1881.9,928 L1884.3,927.9 L1886.8,927.7 L1889.2,927.3 L1892,926.9 L1894.2,926.9 L1896.7,926.7 L1899.3,926.9 L1899.3,926.9 L1899.3,948 Z" fill="url(#rs)"/>
<path id="rline" d="M115.3,921.9 L119,906.6 L121.7,908.6 L123.9,907.7 L126.5,908.8 L131.6,900.3 L134.1,901.5 L139.4,906 L143,909.8 L146.7,912.6 L151.5,915.3 L156.4,917.5 L161.1,918.5 L164.7,919.7 L170.8,921.9 L176.1,922.3 L182.9,923.2 L185.8,923.4 L188.5,923.2 L190.7,923.9 L193.4,925.2 L196.5,926.2 L198.9,927.4 L201.1,928.2 L204.5,931.2 L206.2,932.5 L208.2,933.5 L210.2,934.1 L213.2,934.6 L216.3,934.5 L220.7,934.5 L223.7,934.8 L227.8,935.2 L231.2,935.4 L233.8,935.8 L235.9,936.2 L238.3,936.3 L240.9,936.1 L243.3,935.4 L246,934.5 L248.4,934.1 L250.5,934 L252.9,934.2 L255.6,934.4 L257.8,933.5 L260.2,934 L263,934.8 L266.1,935.3 L268.7,935.5 L271.1,935.5 L274.7,935.4 L278.2,935.1 L281.2,934.6 L285.3,933.5 L287.7,933.2 L290.3,933.3 L292.5,933.2 L295.4,933.3 L297.8,933.2 L300.4,932.8 L302.8,932.2 L305.3,933.3 L307.9,931.5 L310.5,931.1 L312.7,930.7 L315.2,930.9 L317.6,931.5 L320.6,932.8 L323,933.8 L325,934.3 L327.7,934.5 L330.1,934.8 L332.3,935.9 L335.8,935.8 L340.7,935.9 L344.7,935.9 L347.4,936.1 L349.8,936.3 L352.4,936.3 L354.8,936.6 L357.5,937.2 L359.9,937.9 L362.3,938 L364.9,937.8 L367.2,937.7 L369.6,936.9 L372,936.7 L374.4,936.9 L377.3,937.4 L379.5,936.3 L381.9,938.1 L384.5,938.8 L387.2,939.3 L390.2,939 L393.2,938.8 L397.3,938.5 L400,938.5 L402,938.4 L404.6,938.1 L407.1,938.3 L409.7,938.5 L412.1,938.7 L414.5,938.5 L417.2,937.9 L419.6,937.5 L421.8,936.9 L423.6,935.8 L425.3,934.6 L429.2,932.8 L432.2,932.7 L434.6,932.8 L437.3,933.1 L439.7,933.8 L442.1,934.3 L444.3,935.1 L446.8,935.7 L449.4,936 L452,936 L454.8,935.9 L458.5,935.6 L461.5,935.5 L464.1,936 L466.6,936.2 L469.2,936.1 L471.2,934.9 L473.6,934.1 L476.3,933.3 L478.7,932.8 L481.3,932.2 L483.7,931.4 L486.2,930 L488.6,929.4 L491.2,929.8 L493.8,930.3 L496.5,930.9 L498.9,932.2 L500.9,934.2 L503.3,935.1 L507,935.3 L510.6,935.4 L513.4,935.3 L517,935 L521,934.7 L523.4,934.5 L526.1,934.7 L528.7,934.7 L531.5,934.6 L533.9,934.4 L536.2,934.2 L538.4,931.9 L540.6,931.3 L543.4,931 L545.7,931.8 L548.5,932.1 L550.9,932.6 L553.3,933.2 L555.8,933.7 L558.4,934.4 L560.6,935.5 L563,936.3 L565.5,936.4 L568.1,936.4 L570.5,936.6 L573.1,936.7 L575.6,936.4 L578.2,936.2 L580.6,936.1 L583.2,936 L586.1,935.9 L588.7,936 L591.3,936.1 L593.7,936.1 L596.8,935.9 L598.8,935.7 L600.8,935.4 L603.2,935 L605.5,934.4 L607.8,934.2 L610.4,934.2 L612.4,936.3 L615.3,936.8 L617.9,937.5 L620.3,938 L622.7,938.5 L625.4,938.6 L628,938.5 L629.7,938.5 L633.7,938.3 L637.8,937.7 L641.8,937.4 L644.2,937.3 L646.9,937 L649.9,936.8 L652.3,936.5 L655,935.9 L658,935.3 L660,934.9 L662,934 L663.6,933 L667.1,931.7 L669.5,931.5 L672.1,931.5 L675.2,931.7 L677.6,932 L679.8,932.6 L682.2,933 L684.6,933.1 L687.3,933 L690.3,932.7 L694.3,932.5 L697.3,932.2 L700.3,932 L703.3,931.8 L706,931.9 L709.4,932.2 L712.4,932.1 L715.9,931.9 L719.5,931.3 L722.1,931 L724.5,930.6 L727,930.5 L729.6,930.7 L732.6,931 L735.1,931.4 L737.3,932.3 L739.3,933.4 L741.7,934 L744.1,934.2 L746.8,934.3 L749.8,934.3 L752.2,934.5 L756.9,934.5 L759.9,934.6 L763.9,934.8 L766.6,934.5 L769,934.6 L771.6,934.8 L774.4,934.7 L777.1,934.5 L779.5,934.2 L781.7,933.5 L784.1,933.2 L786.7,933.1 L789.1,933.1 L791.5,933.3 L794.6,933.5 L796.8,934.2 L799.2,934.8 L802.2,935.5 L804.7,935.8 L808.3,936.1 L811.3,936.1 L813.7,936.1 L816,936.2 L818.4,935.8 L820.8,934.5 L823.4,934.6 L825.9,934.5 L828.5,934.7 L831.1,934.8 L833.5,934.4 L836.2,934.1 L838.6,933.9 L841,933.9 L843.2,932.7 L845.7,932.3 L848.3,932.4 L850.7,932.6 L853.3,933 L855.8,933.8 L858.4,934.2 L862.5,934.8 L865.6,935.2 L868.6,935.5 L870.6,935.5 L873.2,935.3 L875.6,935.2 L878.6,934.9 L881.2,934.6 L883.6,934.6 L886.7,934.6 L888.7,934.5 L890.7,934.3 L893.1,934.7 L895.8,935.8 L897.8,934.2 L899.8,932.6 L901.8,931 L903.8,929.2 L905.5,927.8 L907.5,927.2 L909.9,927.1 L912.3,927.1 L915,927.5 L916.6,928.1 L921,928.9 L924,929.1 L926.5,929.2 L929.1,929.1 L932.1,928.8 L936.2,928.5 L940.2,928.1 L943.2,927.9 L946.3,927.7 L949.7,927.2 L952.3,927.3 L955.4,927.3 L957.8,926.4 L959.8,924.6 L961.4,922.9 L964.8,920.4 L967.4,919.6 L970,920.1 L972.4,921.6 L974.5,923.5 L976.9,925.4 L979.5,927.7 L981.9,928.6 L984.6,928.9 L987.2,929.1 L989.6,928.9 L992.2,928.8 L995.1,928.4 L997.7,928.1 L1000.1,927.8 L1002.7,927.7 L1005.2,927.6 L1007.4,927.6 L1009.8,927.7 L1012.2,927.4 L1014.9,927.1 L1017.5,926.4 L1019.9,925.8 L1022.5,925.2 L1025,924.9 L1027.4,924.7 L1030,924.8 L1032.4,925.6 L1034.5,927.3 L1036.7,930 L1039.1,931.5 L1041.7,932.2 L1044.8,932.1 L1048.2,931.8 L1051.2,931.5 L1054.1,931.1 L1058.2,930.7 L1061.2,930.3 L1063.6,930.4 L1066.3,930.4 L1068.7,930.2 L1071.3,929.8 L1073.9,929.6 L1076.4,929 L1079,928.1 L1081.4,926.9 L1083.8,926 L1086.5,925.8 L1088.9,925.9 L1091.6,926.5 L1094.3,927.4 L1096.7,928.1 L1098.7,928.7 L1101.3,928.9 L1103.3,928.9 L1106.4,928.7 L1108.8,928.6 L1111.4,928.4 L1113.8,928.2 L1116.1,927.8 L1118.9,927.7 L1121.5,927.5 L1123.9,927.5 L1126.4,927.5 L1128.6,927.2 L1131,926.7 L1133.6,926.6 L1136.1,926.4 L1138.1,925.4 L1139.7,924.3 L1141.2,923.5 L1143.2,922.9 L1145.7,922.9 L1148.3,923.1 L1150.7,923.7 L1153.3,924.7 L1155.4,925.8 L1157.8,926.5 L1160.4,926.9 L1163,926.8 L1165.5,926.6 L1167.9,926 L1170.5,925.2 L1172.9,925 L1175.6,924.7 L1178,924.4 L1180.6,924.3 L1183,924.3 L1185.5,924.2 L1188.1,923.8 L1190.7,923.3 L1193.1,922.4 L1195.6,921.5 L1198.2,920.3 L1200.6,919.4 L1203,918.9 L1205.7,919.3 L1208.3,919.7 L1210.9,920.3 L1212.7,921.3 L1215.4,922.6 L1217.8,923.7 L1220.4,924 L1222.8,923.7 L1225.5,923.6 L1228.1,923.5 L1230.4,923.3 L1232.8,923 L1235.3,922.5 L1238.1,922.3 L1240.5,921.9 L1243.5,921.5 L1246.2,920.8 L1248.2,920.1 L1250.2,919.7 L1252.6,918.7 L1254.7,917.5 L1257.1,916.5 L1259.7,916.2 L1262.3,916.4 L1264.8,916.8 L1267.4,917.6 L1269.8,918.8 L1272.4,919.9 L1274.9,921.1 L1276.9,922.2 L1278.9,922.6 L1280.9,922.6 L1283.9,922.3 L1287,922.1 L1289.6,921.9 L1292,921.2 L1294.7,920.9 L1297.1,920.5 L1299.5,919.3 L1302.1,918.2 L1304.6,917.4 L1307.2,916.4 L1309.6,915.4 L1312.2,914 L1314.7,912.6 L1317.1,910.5 L1321.9,915.8 L1324.4,915.3 L1327,915.4 L1329.4,915.6 L1332,915.5 L1334.1,914.6 L1336.5,913.9 L1338.7,913.7 L1341.5,913.7 L1344.2,913.5 L1346.8,913.3 L1349.2,913 L1351.6,912.2 L1353.2,911 L1355.3,909.6 L1357.3,908.5 L1359.3,907.7 L1361.3,906.2 L1363.7,904.5 L1366.4,903.4 L1368.8,902.3 L1371.4,901.6 L1373.8,901.4 L1376.9,901.3 L1378.9,899.7 L1380.5,901.1 L1382.1,902.9 L1384,905.1 L1386.4,905 L1389,905.8 L1391.2,908.2 L1393.6,906.6 L1396.1,905.2 L1398.7,906.3 L1401.3,907.2 L1403.7,908 L1406.4,908.9 L1408.7,910 L1411.3,910.5 L1413.7,910.4 L1416.2,909.7 L1418.4,908.8 L1420.8,907.7 L1423.2,906.5 L1425.9,905.2 L1428.3,905 L1430.9,904.8 L1433.3,904.2 L1436,904.1 L1438.4,904.5 L1441,904.5 L1443.4,904.6 L1446.1,905.4 L1448.5,906.4 L1450.9,907.4 L1453.1,909.9 L1455.8,908.1 L1458.2,907 L1460.6,908.9 L1463.2,909.6 L1465.9,909.8 L1468.3,909.8 L1470.9,909.5 L1473.3,909.4 L1476,909.3 L1478,909.2 L1480.4,909.5 L1483,909.7 L1485.5,909.8 L1488.1,909.6 L1490.5,909.3 L1493.1,909.2 L1495.8,909.1 L1498.1,908.4 L1500.5,908.1 L1502.9,909.1 L1505.6,910.3 L1508,911.9 L1510.6,913.5 L1513,914.9 L1515.7,916.7 L1517.7,918.2 L1520.1,918.7 L1522.3,919.1 L1524.8,919.2 L1527.4,918.6 L1529.8,918.4 L1532.4,917.9 L1534.9,916.9 L1537.3,915.7 L1539.9,915.4 L1542.3,915.3 L1545,914.7 L1547.6,914.1 L1552,913.3 L1554.9,912.3 L1557.6,911.4 L1560.3,911 L1562.7,911 L1564.9,911.4 L1567.6,912.4 L1570.3,913.7 L1572.5,915.4 L1574.7,917 L1577.1,917.9 L1579.8,918.5 L1583.1,918.4 L1586.5,918.4 L1589,918 L1591.9,917.8 L1593.7,918.4 L1595.7,918.7 L1597.5,919.5 L1600.2,920.6 L1601.9,921.4 L1603.7,922.3 L1605.9,923 L1608.2,923.7 L1610.4,924 L1612.4,923.9 L1614.2,922.8 L1616.4,921.6 L1619.7,919 L1621.9,917.9 L1624.6,917.8 L1626.8,918.1 L1629.7,918.6 L1632.6,919.5 L1635.7,920.5 L1638.6,921.2 L1641.5,921.6 L1644.2,922.4 L1646.4,923.5 L1649,924.3 L1651.3,925.2 L1654.6,927.6 L1656.4,929 L1658.2,930.2 L1662.4,931.3 L1665.3,931.3 L1667.9,931 L1670.4,930 L1672.6,929 L1674.8,928.1 L1676.9,927 L1678.9,925.8 L1681.8,925.5 L1684.5,925.7 L1687.4,926.1 L1690.7,926.3 L1694.1,926.6 L1697.4,926.8 L1701.4,927 L1705.2,926.9 L1708.5,926.8 L1711.8,926.7 L1714.1,926.5 L1717.4,926.7 L1720.7,927.2 L1724.1,927.8 L1727.4,928.4 L1730.7,928.9 L1733.6,929 L1736.3,929 L1738.1,928.6 L1740.7,929.5 L1743.4,930.3 L1746.3,930.7 L1749.6,931.1 L1752.9,931.4 L1756.3,931.7 L1759.6,932 L1762.3,932.1 L1765.2,932 L1767.7,931.6 L1771.2,931.2 L1774.1,930.8 L1776.9,930.8 L1779.7,931 L1782.5,931.2 L1785.1,931.2 L1787.5,930.8 L1790,930.5 L1792.4,929.8 L1794.6,929 L1796.7,927.9 L1798.4,927 L1802.3,926.4 L1805.2,926.5 L1807.7,926.8 L1810.1,927.4 L1812.2,928.4 L1815.1,928.6 L1817.9,928.8 L1820.4,928.7 L1822.8,928.6 L1825,928.2 L1827.5,927.7 L1829.9,927.2 L1832.7,926.9 L1835.6,926.6 L1838.4,926.5 L1841.2,926.7 L1844.8,926.9 L1847.3,927.2 L1849.7,927 L1851.8,926.4 L1853.7,925.4 L1855.3,924.3 L1857.1,923.2 L1859.5,922.7 L1862.8,923.4 L1864.5,923.5 L1866.6,924.1 L1868.7,924.8 L1870.4,925.4 L1872.2,926.4 L1874.1,927.3 L1876.5,927.6 L1879.3,927.9 L1881.9,928 L1884.3,927.9 L1886.8,927.7 L1889.2,927.3 L1892,926.9 L1894.2,926.9 L1896.7,926.7 L1899.3,926.9 L1899.3,926.9" fill="none" stroke="#6f84aa" stroke-width="2" stroke-linejoin="round"/>
<path d="M115.2,891 L115.2,948.6 L1899,948.6 L1899,891" fill="none" stroke="#000" stroke-width="1.8"/>
<rect x="107.9" y="908.9" width="12.4" height="22.2" rx="2.3" ry="2.3" fill="#fff" stroke="#262626" stroke-width="1.6"/>
<rect x="112.3" y="912.3" width="3.3" height="15.4" fill="#e4e2e8"/>
<path d="M112.3,912.3 V927.7 M115.6,912.3 V927.7" fill="none" stroke="#111" stroke-width="1.3"/>
<rect x="1893.8" y="908.9" width="12.4" height="22.2" rx="2.3" ry="2.3" fill="#fff" stroke="#262626" stroke-width="1.6"/>
<rect x="1898.2" y="912.3" width="3.3" height="15.4" fill="#e4e2e8"/>
<path d="M1898.2,912.3 V927.7 M1901.5,912.3 V927.7" fill="none" stroke="#111" stroke-width="1.3"/>
</g>
</svg>
<div class="title"><span class="t1">Time Series - PM2.5 Recordings For December 2025- Dansoman</span><br><span class="sub">Particulate Matter(PM2.5) should be below 15.0µg/m3</span></div>
<div class="ylabel"><span>Particulate Matter(PM) 2.5 µg/m3</span></div>
<div class="xlabel">Time Period</div>
<div class="yt" style="top:844.5px">0</div>
<div class="yt" style="top:764.6px">10</div>
<div class="yt" style="top:684.7px">20</div>
<div class="yt" style="top:604.8px">30</div>
<div class="yt" style="top:524.9px">40</div>
<div class="yt" style="top:445.0px">50</div>
<div class="yt" style="top:365.1px">60</div>
<div class="yt" style="top:285.2px">70</div>
<div class="yt" style="top:205.3px">80</div>
<div class="yt" style="top:125.4px">90</div>
<div class="xt" style="left:173.8px">02 Dec</div>
<div class="xt" style="left:292.9px">04 Dec</div>
<div class="xt" style="left:412.0px">06 Dec</div>
<div class="xt" style="left:531.0px">08 Dec</div>
<div class="xt" style="left:650.1px">10 Dec</div>
<div class="xt" style="left:769.1px">12 Dec</div>
<div class="xt" style="left:888.2px">14 Dec</div>
<div class="xt" style="left:1007.3px">16 Dec</div>
<div class="xt" style="left:1126.3px">18 Dec</div>
<div class="xt" style="left:1245.4px">20 Dec</div>
<div class="xt" style="left:1364.4px">22 Dec</div>
<div class="xt" style="left:1483.5px">24 Dec</div>
<div class="xt" style="left:1602.6px">26 Dec</div>
<div class="xt" style="left:1721.6px">28 Dec</div>
<div class="xt" style="left:1840.7px">30 Dec</div>
<div class="ann">15.0 µg/m3</div>
<div class="roll"><span>30</span></div>
</div>
</body>
</html>
